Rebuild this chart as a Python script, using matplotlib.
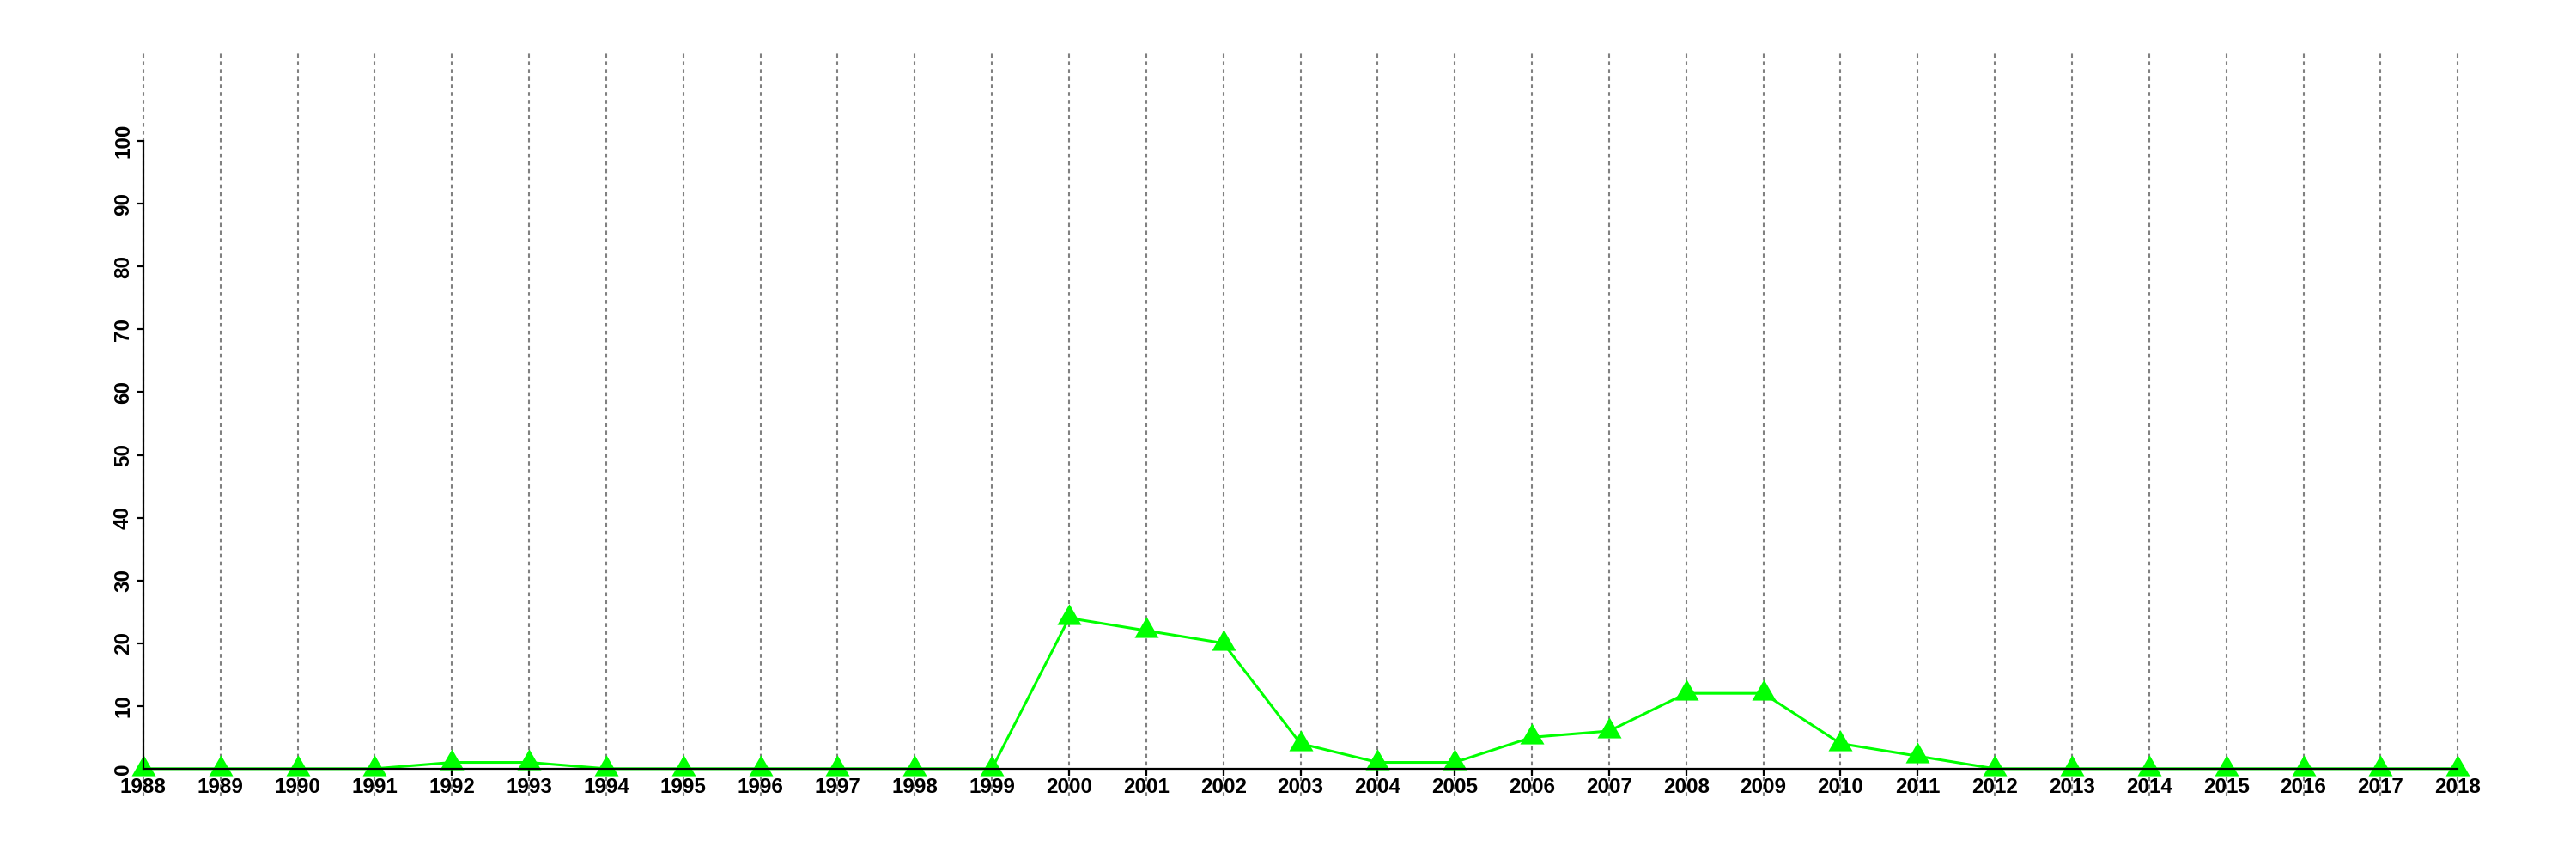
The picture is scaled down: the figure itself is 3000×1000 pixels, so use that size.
import matplotlib
matplotlib.use("Agg")
import matplotlib.pyplot as plt
import numpy as np

years = list(range(1988, 2019))
values = [0, 0, 0, 0, 1, 1, 0, 0, 0, 0, 0, 0,
          24, 22, 20, 4, 1, 1, 5, 6, 12, 12, 4, 2,
          0, 0, 0, 0, 0, 0, 0]
y_ticks = list(range(0, 101, 10))

plt.rcParams['font.family'] = ['Liberation Sans', 'DejaVu Sans']
plt.rcParams['font.weight'] = 'bold'

fig = plt.figure(figsize=(30, 10), dpi=100)
ax = fig.add_axes([0.0197, 0.073, 0.9703, 0.868])
ax.set_xlim(1986.8, 2019.2)
ax.set_ylim(-4.4, 114.4)

# dotted vertical grid lines
ax.vlines(years, -4.4, 114.4, colors='#808080', linewidth=1.5,
          linestyles=(0, (2.2, 2.1)), zorder=1)

tri = [(-1.0, -0.57735), (1.0, -0.57735), (0.0, 1.1547), (-1.0, -0.57735)]
ax.plot(years, values, color='#00ff00', linewidth=2.2, marker=tri,
        markersize=23.3, markerfacecolor='#00ff00', markeredgewidth=0,
        zorder=2)

for s in ['top', 'right']:
    ax.spines[s].set_visible(False)
ax.spines['left'].set_position(('data', 1988))
ax.spines['left'].set_bounds(0, 100)
ax.spines['bottom'].set_position(('data', 0))
ax.spines['bottom'].set_bounds(1988, 2018)
for s in ['left', 'bottom']:
    ax.spines[s].set_linewidth(1.6)
    ax.spines[s].set_color('black')
    ax.spines[s].set_zorder(3)

ax.set_xticks(years)
ax.set_xticklabels([str(y) for y in years], fontsize=17.5, fontweight='bold')
ax.set_yticks(y_ticks)
ax.set_yticklabels([str(v) for v in y_ticks], fontsize=17.5, fontweight='bold',
                   rotation=90, va='center')
ax.tick_params(axis='x', length=5.5, width=1.6, pad=1.5, direction='out')
ax.tick_params(axis='y', length=5.5, width=1.6, pad=3, direction='out')

fig.savefig('out.png', dpi=100)
